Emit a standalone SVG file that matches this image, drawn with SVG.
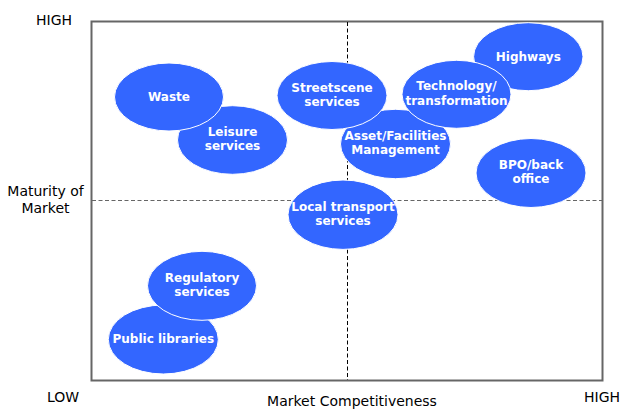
<svg xmlns="http://www.w3.org/2000/svg" width="621" height="409" viewBox="0 0 621 409">
  <style>
    .axis { font-family: "DejaVu Sans", Verdana, sans-serif; font-size: 14px; fill: #000; }
    .lbl { font-family: "DejaVu Sans", Verdana, sans-serif; font-size: 12px; font-weight: bold; fill: #fff; text-anchor: middle; }
    .bub { fill: #3366ff; stroke: #fff; stroke-width: 1; }
    .frame { fill: #fff; stroke: #666; stroke-width: 2; }
    .hdash { stroke: #666; stroke-width: 1.2; stroke-dasharray: 4 2.5; fill: none; }
    .vdash { stroke: #000; stroke-width: 1; stroke-dasharray: 4 2.5; fill: none; }
  </style>

  <!-- axis labels -->
  <text class="axis" x="36" y="25">HIGH</text>
  <text class="axis" x="45.5" y="196" text-anchor="middle">Maturity of</text>
  <text class="axis" x="45.5" y="213" text-anchor="middle">Market</text>
  <text class="axis" x="47" y="402">LOW</text>
  <text class="axis" x="352" y="406" text-anchor="middle">Market Competitiveness</text>
  <text class="axis" x="584" y="402">HIGH</text>

  <!-- frame and quadrant dividers -->
  <g id="connectors">
    <rect class="frame" x="91.5" y="21.5" width="511" height="359"/>
    <line class="hdash" x1="92" y1="200.5" x2="602" y2="200.5"/>
    <line class="vdash" x1="347.5" y1="22" x2="347.5" y2="380"/>
  </g>

  <!-- service bubbles -->
  <g id="leisure"><ellipse class="bub" cx="232.5" cy="140" rx="55" ry="34.3"/>
    <text class="lbl" x="232.5" y="136">Leisure</text><text class="lbl" x="232.5" y="150">services</text></g>
  <g id="waste"><ellipse class="bub" cx="169" cy="97" rx="54.5" ry="34"/>
    <text class="lbl" x="169" y="101">Waste</text></g>
  <g id="asset"><ellipse class="bub" cx="395.5" cy="144" rx="55" ry="34.7"/>
    <text class="lbl" x="395.5" y="140">Asset/Facilities</text><text class="lbl" x="395.5" y="154">Management</text></g>
  <g id="streetscene"><ellipse class="bub" cx="332" cy="95.5" rx="55" ry="34"/>
    <text class="lbl" x="332" y="92">Streetscene</text><text class="lbl" x="332" y="106">services</text></g>
  <g id="highways"><ellipse class="bub" cx="528.3" cy="56.7" rx="54.7" ry="34"/>
    <text class="lbl" x="528.3" y="60.5">Highways</text></g>
  <g id="technology"><ellipse class="bub" cx="456.5" cy="94.3" rx="54.5" ry="34"/>
    <text class="lbl" x="456.5" y="90">Technology/</text><text class="lbl" x="456.5" y="104.5">transformation</text></g>
  <g id="bpo"><ellipse class="bub" cx="531" cy="173" rx="55" ry="34.5"/>
    <text class="lbl" x="531" y="169">BPO/back</text><text class="lbl" x="531" y="183">office</text></g>
  <g id="local-transport"><ellipse class="bub" cx="343" cy="214.7" rx="55" ry="34.7"/>
    <text class="lbl" x="343" y="211">Local transport</text><text class="lbl" x="343" y="225">services</text></g>
  <g id="public-libraries"><ellipse class="bub" cx="163.3" cy="339.5" rx="55" ry="34.5"/>
    <text class="lbl" x="163.3" y="343">Public libraries</text></g>
  <g id="regulatory"><ellipse class="bub" cx="202" cy="285.8" rx="54.5" ry="34.5"/>
    <text class="lbl" x="202" y="281.5">Regulatory</text><text class="lbl" x="202" y="295.5">services</text></g>
</svg>
